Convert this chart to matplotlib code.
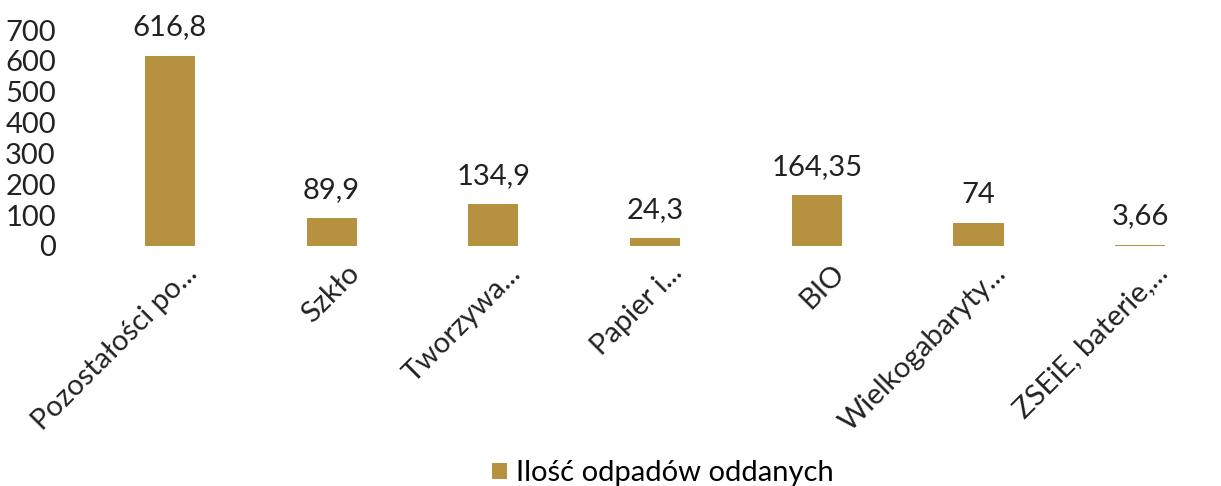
import matplotlib
matplotlib.use("Agg")
import matplotlib.pyplot as plt
from matplotlib.transforms import ScaledTranslation

categories = ["Pozostałości po...", "Szkło", "Tworzywa...", "Papier i...", "BIO",
              "Wielkogabaryty...", "ZSEiE, baterie,..."]
values = [616.8, 89.9, 134.9, 24.3, 164.35, 74, 3.66]
value_labels = ["616,8", "89,9", "134,9", "24,3", "164,35", "74", "3,66"]
yticks = [0, 100, 200, 300, 400, 500, 600, 700]
series_name = "Ilość odpadów oddanych"

plt.rcParams['font.family'] = ['Lato', 'DejaVu Sans']
bar_color = '#B6913F'
txt_color = '#222222'
fs = 21

fig = plt.figure(figsize=(12.21, 4.86), dpi=100, facecolor="white")
ax = fig.add_axes([0.073, 0.494, 0.927, 0.444])

x = range(len(categories))
bars = ax.bar(x, values, width=0.31, color=bar_color, label=series_name)
for xi, v, lab in zip(x, values, value_labels):
    ax.annotate(lab, (xi, v), xytext=(0, 11), textcoords='offset points',
                ha='center', va='bottom', fontsize=fs, color=txt_color)

ax.set_ylim(0, 700)
ax.set_xlim(-0.5, 6.5)
ax.set_yticks(yticks)
ax.set_yticklabels([str(t) for t in yticks], fontsize=fs, color=txt_color)
ax.set_xticks(list(x))
ax.set_xticklabels(categories, rotation=45, ha='right', rotation_mode='anchor',
                   fontsize=fs, color=txt_color)
ax.tick_params(length=0)
ax.tick_params(axis='y', pad=24)
ax.tick_params(axis='x', pad=10)
# push the rotated labels a little right of the bar centre
shift = ScaledTranslation(14 / 100, 0, fig.dpi_scale_trans)
for lbl in ax.get_xticklabels():
    lbl.set_transform(lbl.get_transform() + shift)
for s in ax.spines.values():
    s.set_visible(False)

fig.legend(handles=[bars], labels=[series_name], loc='lower center',
           bbox_to_anchor=(0.543, -0.055), frameon=False, fontsize=fs,
           handlelength=0.5, handleheight=0.5, handletextpad=0.3)

fig.savefig("out.png", dpi=100, facecolor="white")
